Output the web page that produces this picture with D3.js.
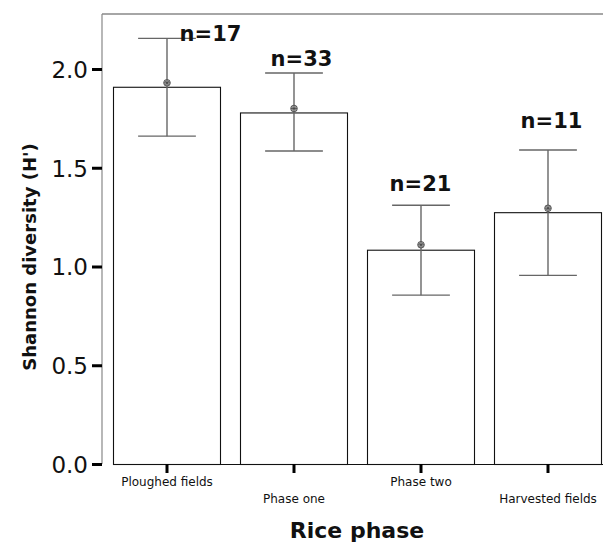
<!DOCTYPE html>
<html><head><meta charset="utf-8">
<script src="https://cdn.jsdelivr.net/npm/d3@7"></script>
<style>body{margin:0;background:#fff}svg{display:block}</style>
</head><body>
<svg id="c" width="603" height="545"></svg>
<script>
const categories = ["Ploughed fields","Phase one","Phase two","Harvested fields"];
const barValues = [1.91, 1.78, 1.085, 1.275];
const meanValues = [1.93, 1.80, 1.11, 1.295];
const errLow = [1.66, 1.585, 0.855, 0.955];
const errHigh = [2.155, 1.98, 1.31, 1.59];
const nLabels = ["n=17","n=33","n=21","n=11"];
const yTicks = [0.0, 0.5, 1.0, 1.5, 2.0];

const svg = d3.select("#c");
const plotTop = 14, plotBottom = 464, plotLeft = 102, plotRight = 603;
const y = d3.scaleLinear().domain([0, 2]).range([plotBottom, 69]);
const x = d3.scaleBand().domain(categories).range([103, 611]).paddingInner(20/127).paddingOuter(10/127);
const tickFont = "'DejaVu Sans', 'Noto Sans', sans-serif";
const bodyFont = "'DejaVu Sans', 'Noto Sans', sans-serif";

// frame
svg.append("line").attr("x1", plotLeft).attr("x2", plotRight).attr("y1", plotTop).attr("y2", plotTop).attr("stroke", "#888").attr("stroke-width", 1.5);
svg.append("line").attr("x1", plotLeft).attr("x2", plotLeft).attr("y1", plotTop).attr("y2", plotBottom).attr("stroke", "#888").attr("stroke-width", 1.2);

// bars
svg.selectAll("rect.bar").data(categories).join("rect")
  .attr("x", d => x(d) + 0.5).attr("width", x.bandwidth())
  .attr("y", (d, i) => y(barValues[i]) + 0.5)
  .attr("height", (d, i) => plotBottom - y(barValues[i]))
  .attr("fill", "#fff").attr("stroke", "#111").attr("stroke-width", 1.1);

// baseline
svg.append("line").attr("x1", x(categories[0])).attr("x2", plotRight).attr("y1", plotBottom + 0.5).attr("y2", plotBottom + 0.5).attr("stroke", "#111").attr("stroke-width", 1.2);

// error bars
const cap = x.bandwidth() * 0.27;
const eg = svg.append("g").attr("stroke", "#666").attr("stroke-width", 1.4);
categories.forEach((c, i) => {
  const cx = x(c) + x.bandwidth() / 2 + 0.5;
  eg.append("line").attr("x1", cx).attr("x2", cx).attr("y1", y(errHigh[i])).attr("y2", y(errLow[i]));
  eg.append("line").attr("x1", cx - cap).attr("x2", cx + cap).attr("y1", y(errHigh[i])).attr("y2", y(errHigh[i]));
  eg.append("line").attr("x1", cx - cap).attr("x2", cx + cap).attr("y1", y(errLow[i])).attr("y2", y(errLow[i]));
  const m = svg.append("g").attr("transform", `translate(${cx},${y(meanValues[i])})`);
  m.append("circle").attr("r", 3.3).attr("fill", "#bbb").attr("stroke", "#555").attr("stroke-width", 1);
  m.append("path").attr("d", "M-3,0H3M0,-3V3M-2,-2L2,2M-2,2L2,-2").attr("stroke", "#444").attr("stroke-width", 0.8);
});

// n labels
const nOffsets = [[44, 3], [8, -7], [0, -14], [4, -22]];
categories.forEach((c, i) => {
  const cx = x(c) + x.bandwidth() / 2;
  svg.append("text").attr("x", cx + nOffsets[i][0]).attr("y", y(errHigh[i]) + nOffsets[i][1])
    .attr("text-anchor", "middle").attr("font-family", bodyFont).attr("font-weight", "bold")
    .attr("font-size", 21).attr("fill", "#111").text(nLabels[i]);
});

// y axis
const yAxis = d3.axisLeft(y).tickValues(yTicks).tickFormat(d3.format(".1f")).tickSize(10).tickPadding(4);
const ya = svg.append("g").attr("transform", `translate(${plotLeft},0)`).call(yAxis);
ya.select(".domain").remove();
ya.selectAll(".tick line").attr("stroke", "#000").attr("stroke-width", 3);
ya.selectAll(".tick text").attr("font-family", tickFont).attr("font-size", 23).attr("fill", "#111").attr("dy", "0.36em");

// x axis
const xAxis = d3.axisBottom(x).tickSize(9).tickPadding(0);
const xa = svg.append("g").attr("transform", `translate(0.5,${plotBottom})`).call(xAxis);
xa.select(".domain").remove();
xa.selectAll(".tick line").attr("stroke", "#000").attr("stroke-width", 3);
xa.selectAll(".tick text").attr("font-family", bodyFont).attr("font-size", 12).attr("fill", "#111")
  .attr("y", (d, i) => i % 2 === 0 ? 13 : 30).attr("dy", "0.71em");

// titles
svg.append("text").attr("x", 357).attr("y", 538).attr("text-anchor", "middle")
  .attr("font-family", bodyFont).attr("font-weight", "bold").attr("font-size", 22).attr("fill", "#111").text("Rice phase");
svg.append("text").attr("transform", "translate(36,257) rotate(-90)").attr("text-anchor", "middle")
  .attr("font-family", bodyFont).attr("font-weight", "bold").attr("font-size", 18).attr("fill", "#111").text("Shannon diversity (H')");
</script>
</body></html>
